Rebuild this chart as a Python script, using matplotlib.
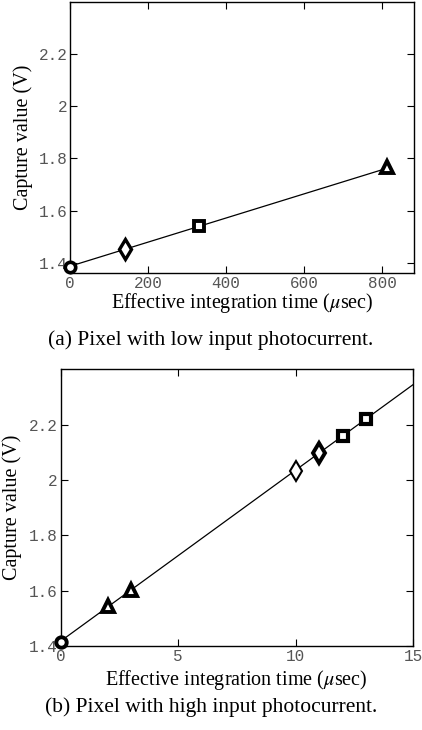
import matplotlib
matplotlib.use("Agg")
import matplotlib.pyplot as plt
import numpy as np

# (a) low photocurrent
low_circle_t = [0]
low_circle_v = [1.385]
low_diamond_t = [140]
low_diamond_v = [1.451]
low_square_t = [330]
low_square_v = [1.539]
low_triangle_t = [812]
low_triangle_v = [1.766]
low_fit_t = [0, 812]
low_fit_v = [1.386, 1.762]

# (b) high photocurrent
high_circle_t = [0]
high_circle_v = [1.414]
high_triangle_t = [2, 3]
high_triangle_v = [1.543, 1.604]
high_diamond_t = [10, 11]
high_diamond_v = [2.034, 2.097]
high_square_t = [12, 13]
high_square_v = [2.159, 2.222]
high_fit_t = [0, 15]
high_fit_v = [1.418, 2.345]

yticks = [1.4, 1.6, 1.8, 2.0, 2.2]
ytick_labels = ["1.4", "1.6", "1.8", "2", "2.2"]
low_xticks = [0, 200, 400, 600, 800]
high_xticks = [0, 5, 10, 15]

serif = "Liberation Serif"
mono = "Liberation Mono"
tick_color = "#555555"
label_size = 14.5


def style_axes(ax, xticks):
    ax.set_xticks(xticks)
    ax.set_xticklabels([str(t) for t in xticks])
    ax.set_yticks(yticks)
    ax.set_yticklabels(ytick_labels)
    ax.tick_params(direction="in", length=5, width=0.8, top=True, right=True,
                   labelsize=11.5, labelcolor=tick_color, pad=2)
    for lab in ax.get_xticklabels() + ax.get_yticklabels():
        lab.set_fontfamily(mono)
    for sp in ax.spines.values():
        sp.set_linewidth(1.0)
    ax.set_ylabel("Capture value (V)", fontfamily=serif, fontsize=label_size, va="center")
    ax.set_xlabel("Effective integration time ($\\mu$sec)", fontfamily=serif,
                  fontsize=label_size, va="center")


def markers(ax, t, v, m, ms, ew=2.2):
    ax.plot(t, v, linestyle="none", marker=m, markersize=ms, markerfacecolor="white",
            markeredgecolor="black", markeredgewidth=ew, zorder=3, clip_on=False)


plt.rcParams["mathtext.fontset"] = "stix"

fig = plt.figure(figsize=(4.22, 7.30), dpi=100)

ax1 = fig.add_axes([0.166, 0.626, 0.815, 0.371])
ax1.plot(low_fit_t, low_fit_v, color="black", linewidth=0.9)
markers(ax1, low_circle_t, low_circle_v, "o", 7.5, 2.6)
markers(ax1, low_diamond_t, low_diamond_v, "d", 10, 2.4)
markers(ax1, low_square_t, low_square_v, "s", 6.5, 2.8)
markers(ax1, low_triangle_t, low_triangle_v, "^", 8.5, 2.8)
ax1.set_xlim(0, 882)
ax1.set_ylim(1.36, 2.4)
style_axes(ax1, low_xticks)
ax1.yaxis.set_label_coords(-0.137, 0.5)
ax1.xaxis.set_label_coords(0.5, -0.112)

ax2 = fig.add_axes([0.144, 0.115, 0.835, 0.379])
ax2.plot(high_fit_t, high_fit_v, color="black", linewidth=0.9)
markers(ax2, high_circle_t, high_circle_v, "o", 7.5, 2.8)
markers(ax2, high_triangle_t, high_triangle_v, "^", 8.5, 2.8)
markers(ax2, high_diamond_t[:1], high_diamond_v[:1], "d", 10, 1.5)
markers(ax2, high_diamond_t[1:], high_diamond_v[1:], "d", 10, 2.8)
markers(ax2, high_square_t, high_square_v, "s", 6.5, 3.0)
ax2.set_xlim(0, 15)
ax2.set_ylim(1.4, 2.4)
style_axes(ax2, high_xticks)
ax2.yaxis.set_label_coords(-0.137, 0.5)
ax2.xaxis.set_label_coords(0.497, -0.123)

fig.text(0.5, 1 - 340 / 730, "(a) Pixel with low input photocurrent.", ha="center", va="center",
         fontfamily=serif, fontsize=15.5)
fig.text(0.5, 1 - 707 / 730, "(b) Pixel with high input photocurrent.", ha="center", va="center",
         fontfamily=serif, fontsize=15.5)

fig.savefig("out.png", dpi=100)
